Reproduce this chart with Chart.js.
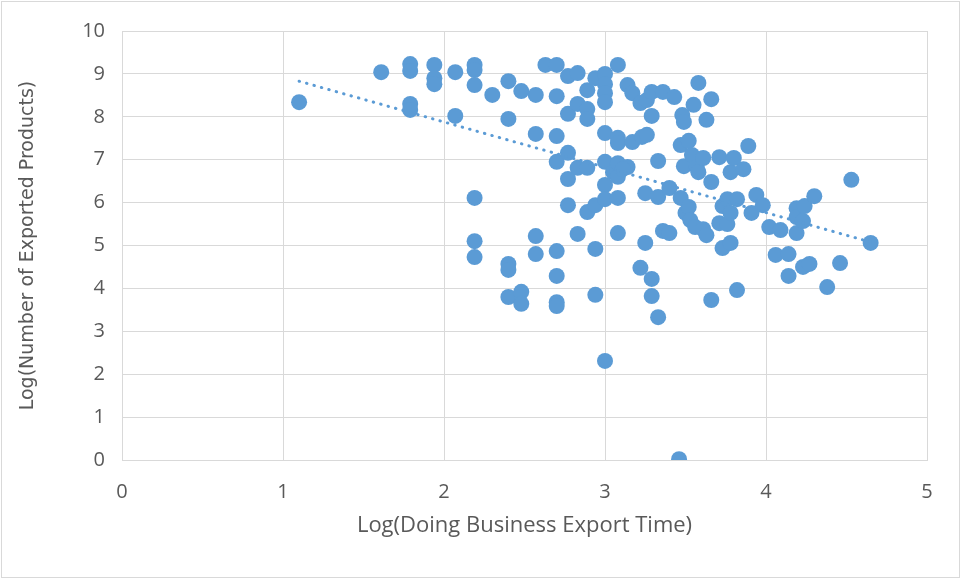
<!DOCTYPE html>
<html>
<head>
<meta charset="utf-8">
<script src="https://cdn.jsdelivr.net/npm/chart.js@4/dist/chart.umd.min.js"></script>
<style>
  html, body { margin: 0; padding: 0; background: #ffffff; }
  #wrap { position: relative; width: 962px; height: 579px; }
</style>
</head>
<body>
<div id="wrap"><canvas id="c" width="962" height="579"></canvas></div>
<script>
// Log(Doing Business Export Time)
const exportTime = [
  1.10, 1.61, 1.79, 1.79, 1.79, 1.79, 1.94, 1.94, 1.94, 2.07,
  2.07, 2.19, 2.19, 2.19, 2.19, 2.19, 2.19, 2.30, 2.40, 2.40,
  2.40, 2.40, 2.40, 2.48, 2.48, 2.48, 2.57, 2.57, 2.57, 2.57,
  2.63, 2.70, 2.70, 2.70, 2.70, 2.70, 2.70, 2.70, 2.70, 2.77,
  2.77, 2.77, 2.77, 2.77, 2.83, 2.83, 2.83, 2.83, 2.89, 2.89,
  2.89, 2.89, 2.89, 2.94, 2.94, 2.94, 2.94, 3.00, 3.00, 3.00,
  3.00, 3.00, 3.00, 3.00, 3.00, 3.00, 3.05, 3.08, 3.08, 3.08,
  3.08, 3.08, 3.08, 3.08, 3.14, 3.14, 3.17, 3.17, 3.22, 3.22,
  3.23, 3.26, 3.26, 3.25, 3.25, 3.29, 3.29, 3.29, 3.29, 3.33,
  3.33, 3.33, 3.36, 3.36, 3.40, 3.40, 3.43, 3.46, 3.47, 3.47,
  3.48, 3.49, 3.49, 3.50, 3.52, 3.52, 3.54, 3.53, 3.55, 3.56,
  3.57, 3.58, 3.58, 3.61, 3.61, 3.63, 3.63, 3.66, 3.66, 3.66,
  3.71, 3.71, 3.73, 3.73, 3.76, 3.76, 3.78, 3.78, 3.78, 3.80,
  3.82, 3.82, 3.86, 3.89, 3.91, 3.94, 3.98, 4.02, 4.06, 4.09,
  4.14, 4.14, 4.19, 4.19, 4.19, 4.23, 4.24, 4.23, 4.27, 4.30,
  4.38, 4.46, 4.53, 4.65, 3.11
];
// Log(Number of Exported Products)
const exportedProducts = [
  8.34, 9.04, 9.23, 9.07, 8.30, 8.16, 9.21, 8.90, 8.76, 9.04,
  8.02, 9.21, 9.09, 8.74, 6.11, 5.10, 4.73, 8.51, 8.83, 7.95,
  4.57, 4.43, 3.80, 8.60, 3.92, 3.64, 8.51, 7.60, 5.22, 4.80,
  9.21, 9.21, 8.48, 7.55, 6.95, 4.87, 4.29, 3.68, 3.59, 8.95,
  8.07, 7.16, 6.55, 5.94, 9.02, 8.30, 6.81, 5.27, 8.62, 8.18,
  7.95, 6.81, 5.78, 8.90, 4.92, 3.85, 5.94, 9.00, 8.76, 8.55,
  8.34, 7.62, 6.95, 6.41, 6.08, 2.31, 6.71, 9.21, 7.51, 7.39,
  6.92, 6.60, 6.11, 5.29, 6.83, 8.74, 8.55, 7.41, 8.32, 4.48,
  7.53, 8.39, 7.58, 6.22, 5.06, 8.58, 8.02, 4.22, 3.82, 6.97,
  6.13, 3.33, 8.58, 5.34, 6.34, 5.29, 8.46, 0.02, 7.34, 6.11,
  8.04, 7.88, 6.85, 5.76, 7.44, 5.90, 7.11, 5.59, 8.28, 5.43,
  6.83, 8.79, 6.71, 7.04, 5.38, 7.93, 5.24, 8.41, 6.48, 3.73,
  7.06, 5.52, 4.94, 5.92, 6.08, 5.50, 5.76, 5.06, 6.71, 7.04,
  6.08, 3.96, 6.78, 7.32, 5.76, 6.18, 5.94, 5.43, 4.78, 5.36,
  4.80, 4.29, 5.29, 5.87, 5.66, 5.57, 5.92, 4.50, 4.57, 6.15,
  4.03, 4.59, 6.53, 5.06, 6.78
];
// Linear trendline end points
const trendX = [1.10, 4.65];
const trendY = [8.83, 5.08];
// Axis ticks
const xTicks = [0, 1, 2, 3, 4, 5];
const yTicks = [0, 1, 2, 3, 4, 5, 6, 7, 8, 9, 10];

const xTitle = 'Log(Doing Business Export Time)';
const yTitle = 'Log(Number of Exported Products)';

const BLUE = '#5B9BD5';
const GRID = '#d9d9d9';
const TEXT = '#595959';

const points = exportTime.map((x, i) => ({ x: x, y: exportedProducts[i] }));
const trend = trendX.map((x, i) => ({ x: x, y: trendY[i] }));

const frame = {
  id: 'frame',
  afterDraw(chart) {
    const ctx = chart.ctx;
    ctx.save();
    ctx.strokeStyle = GRID;
    ctx.lineWidth = 1;
    ctx.strokeRect(1.5, 1.5, 958, 576);
    ctx.restore();
  }
};

new Chart(document.getElementById('c'), {
  type: 'scatter',
  data: {
    datasets: [
      {
        label: 'Trend',
        type: 'line',
        data: trend,
        borderColor: BLUE,
        borderWidth: 3,
        borderDash: [0.5, 7.2],
        borderCapStyle: 'round',
        pointRadius: 0,
        fill: false,
        order: 0
      },
      {
        label: 'Data',
        data: points,
        backgroundColor: BLUE,
        borderWidth: 0,
        pointRadius: 8,
        pointHoverRadius: 8,
        order: 1
      }
    ]
  },
  plugins: [frame],
  options: {
    responsive: false,
    animation: false,
    devicePixelRatio: 1,
    layout: { padding: { top: 31, right: 35, bottom: 0, left: 0 } },
    plugins: { legend: { display: false }, tooltip: { enabled: false } },
    scales: {
      x: {
        type: 'linear',
        min: 0, max: 5,
        afterBuildTicks: (s) => { s.ticks = xTicks.map(v => ({ value: v })); },
        afterFit: (s) => { s.height = 119; },
        grid: { color: GRID, lineWidth: 1, drawTicks: false },
        border: { color: GRID },
        ticks: { color: TEXT, font: { family: 'Open Sans', size: 20 }, padding: 20, maxRotation: 0 },
        title: { display: true, text: xTitle, color: TEXT, font: { family: 'Open Sans', size: 22 }, padding: { top: 0, bottom: 40 } }
      },
      y: {
        type: 'linear',
        min: 0, max: 10,
        afterBuildTicks: (s) => { s.ticks = yTicks.map(v => ({ value: v })); },
        afterFit: (s) => { s.width = 122; },
        grid: { color: GRID, lineWidth: 1, drawTicks: false },
        border: { color: GRID },
        ticks: { color: TEXT, font: { family: 'Open Sans', size: 20 }, padding: 17 },
        title: { display: true, text: yTitle, color: TEXT, font: { family: 'DejaVu Sans', size: 19 }, padding: { top: 17, bottom: 0 } }
      }
    }
  }
});
</script>
</body>
</html>
